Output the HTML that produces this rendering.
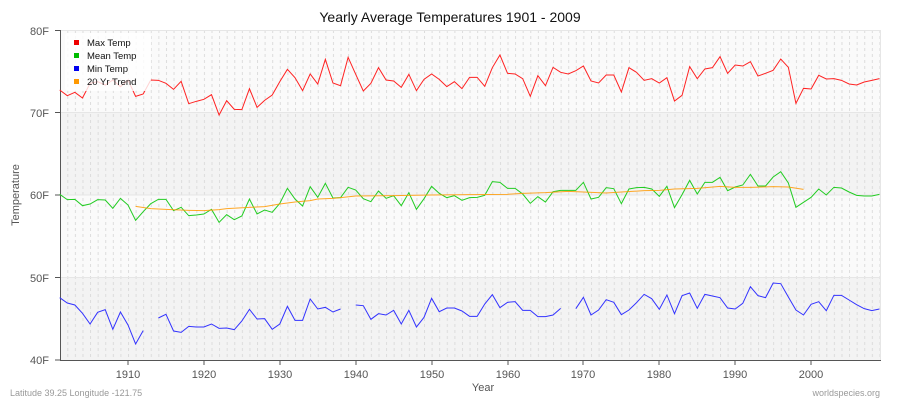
<!DOCTYPE html>
<html><head><meta charset="utf-8"><style>
body{margin:0;background:#fff;}
svg{display:block;font-family:"Liberation Sans",sans-serif;}
</style></head><body>
<svg width="900" height="400" xmlns="http://www.w3.org/2000/svg">
<defs>
<pattern id="vg" patternUnits="userSpaceOnUse" x="59.7" y="0" width="7.59" height="6">
<line x1="0.5" y1="0" x2="0.5" y2="3" stroke="#dcdcdc" stroke-width="1"/>
</pattern>
</defs>
<rect width="900" height="400" fill="#fff"/>
<text x="450" y="22" font-size="14" text-anchor="middle" fill="#111">Yearly Average Temperatures 1901 - 2009</text>
<rect x="60" y="30" width="821" height="82.5" fill="#fafafa"/>
<rect x="60" y="112.5" width="821" height="82.5" fill="#f3f3f3"/>
<rect x="60" y="195" width="821" height="82.5" fill="#fafafa"/>
<rect x="60" y="277.5" width="821" height="82.5" fill="#f3f3f3"/>
<rect x="60" y="30" width="821" height="330" fill="url(#vg)"/>
<g stroke="#e6e6e6" stroke-width="1">
<line x1="60" y1="30.5" x2="881" y2="30.5"/>
<line x1="60" y1="112.5" x2="881" y2="112.5"/>
<line x1="60" y1="195" x2="881" y2="195"/>
<line x1="60" y1="277.5" x2="881" y2="277.5"/>
<line x1="880.5" y1="30" x2="880.5" y2="360"/>
</g>
<g stroke="#555" stroke-width="1">
<line x1="60.5" y1="30" x2="60.5" y2="360"/>
<line x1="60" y1="360.5" x2="881" y2="360.5"/>
<line x1="55" y1="30.5" x2="60" y2="30.5"/><line x1="55" y1="112.5" x2="60" y2="112.5"/><line x1="55" y1="195" x2="60" y2="195"/><line x1="55" y1="277.5" x2="60" y2="277.5"/><line x1="55" y1="360" x2="60" y2="360"/>
<line x1="128" y1="360" x2="128" y2="365"/><line x1="204" y1="360" x2="204" y2="365"/><line x1="280" y1="360" x2="280" y2="365"/><line x1="356" y1="360" x2="356" y2="365"/><line x1="432" y1="360" x2="432" y2="365"/><line x1="508" y1="360" x2="508" y2="365"/><line x1="583" y1="360" x2="583" y2="365"/><line x1="659" y1="360" x2="659" y2="365"/><line x1="735" y1="360" x2="735" y2="365"/><line x1="811" y1="360" x2="811" y2="365"/>
</g>
<g font-size="11" fill="#555" text-anchor="end">
<text x="49" y="35">80F</text><text x="49" y="117">70F</text><text x="49" y="199">60F</text><text x="49" y="282">50F</text><text x="49" y="364">40F</text>
</g>
<g font-size="11" fill="#555" text-anchor="middle">
<text x="128" y="378">1910</text><text x="204" y="378">1920</text><text x="280" y="378">1930</text><text x="356" y="378">1940</text><text x="432" y="378">1950</text><text x="508" y="378">1960</text><text x="583" y="378">1970</text><text x="659" y="378">1980</text><text x="735" y="378">1990</text><text x="811" y="378">2000</text>
</g>
<text x="483" y="391" font-size="11" fill="#555" text-anchor="middle">Year</text>
<text transform="translate(19,195) rotate(-90)" font-size="11" fill="#555" text-anchor="middle">Temperature</text>
<text x="10" y="396" font-size="9" fill="#999">Latitude 39.25 Longitude -121.75</text>
<text x="880" y="396" font-size="9" fill="#999" text-anchor="end">worldspecies.org</text>
<g transform="translate(59.7,20) scale(7.59,0.33333)" fill="none">
<polyline vector-effect="non-scaling-stroke" stroke="#f22" stroke-width="1" points="0,210 1,227 2,217 3,234 4,190 5,185 6,195 7,180 8,200 9,180 10,229 11,222 12,180 13,181 14,190 15,208 16,184 17,251 18,244 19,238 20,224 21,285 22,242 23,268 24,269 25,206 26,262 27,241 28,225 29,185 30,148 31,173 32,212 33,162 34,192 35,118 36,189 37,197 38,112 39,163 40,213 41,190 42,143 43,180 44,183 45,202 46,163 47,212 48,178 49,162 50,178 51,200 52,185 53,206 54,172 55,172 56,199 57,143 58,105 59,160 60,162 61,176 62,229 63,167 64,197 65,142 66,157 67,162 68,152 69,138 70,183 71,189 72,165 73,165 74,216 75,143 76,157 77,181 78,176 79,189 80,173 81,243 82,226 83,140 84,176 85,147 86,143 87,110 88,160 89,135 90,138 91,125 92,168 93,160 94,151 95,117 96,142 97,250 98,205 99,207 100,166 101,177 102,176 103,181 104,192 105,195 106,186 107,181 108,176"/>
<polyline vector-effect="non-scaling-stroke" stroke="#2c2" stroke-width="1" points="0,523 1,539 2,538 3,557 4,552 5,539 6,540 7,565 8,535 9,555 10,601 11,575 12,551 13,538 14,538 15,572 16,562 17,587 18,585 19,582 20,568 21,607 22,584 23,599 24,588 25,537 26,582 27,570 28,577 29,550 30,505 31,537 32,558 33,500 34,532 35,490 36,534 37,533 38,502 39,510 40,536 41,545 42,513 43,535 44,527 45,557 46,518 47,568 48,536 49,499 50,520 51,533 52,527 53,541 54,533 55,532 56,526 57,485 58,487 59,505 60,505 61,522 62,550 63,530 64,546 65,515 66,511 67,511 68,511 69,487 70,537 71,532 72,503 73,506 74,551 75,507 76,503 77,502 78,507 79,529 80,499 81,563 82,524 83,481 84,522 85,487 86,487 87,472 88,512 89,501 90,495 91,463 92,498 93,498 94,471 95,455 96,489 97,562 98,547 99,532 100,507 101,525 102,502 103,504 104,516 105,526 106,528 107,528 108,523"/>
<g stroke="#33f" stroke-width="1">
<polyline vector-effect="non-scaling-stroke" points="0,833 1,849 2,855 3,880 4,912 5,877 6,869 7,928 8,876 9,915 10,972 11,932"/>
<polyline vector-effect="non-scaling-stroke" points="13,894 14,883 15,933 16,937 17,919 18,921 19,921 20,912 21,925 22,924 23,929 24,903 25,868 26,897 27,896 28,928 29,912 30,859 31,901 32,901 33,837 34,867 35,862 36,876 37,867"/>
<polyline vector-effect="non-scaling-stroke" points="39,855 40,857 41,898 42,881 43,885 44,871 45,912 46,871 47,921 48,892 49,835 50,875 51,864 52,864 53,873 54,889 55,889 56,852 57,824 58,863 59,847 60,845 61,871 62,871 63,890 64,890 65,885 66,865"/>
<polyline vector-effect="non-scaling-stroke" points="68,866 69,832 70,885 71,870 72,839 73,847 74,884 75,870 76,848 77,823 78,836 79,868 80,825 81,881 82,827 83,819 84,865 85,823 86,828 87,833 88,864 89,867 90,850 91,800 92,827 93,833 94,789 95,791 96,831 97,870 98,885 99,853 100,845 101,872 102,826 103,826 104,840 105,854 106,866 107,872 108,867"/>
</g>
<polyline vector-effect="non-scaling-stroke" stroke="#f90" stroke-width="1" stroke-opacity="0.85" points="10,559 12,566 14,568 17,571 19,572 21,569 22,566 25,562 27,560 29,552 31,546 33,542 34,537 36,535 37,533 39,528 44,527 49,525 54,524 59,523 61,520 64,518 67,514 69,516 72,519 74,516 77,512 79,511 81,507 84,505 87,499 89,502 91,502 94,500 96,501 98,508"/>
</g>
<rect x="65" y="33" width="86" height="58" rx="3" fill="#fff" fill-opacity="0.8"/>
<g font-size="9.5" fill="#111">
<rect x="74" y="40" width="5" height="5" fill="#e00"/><text x="87" y="46">Max Temp</text>
<rect x="74" y="53" width="5" height="5" fill="#0b0"/><text x="87" y="59">Mean Temp</text>
<rect x="74" y="66" width="5" height="5" fill="#00e"/><text x="87" y="72">Min Temp</text>
<rect x="74" y="79" width="5" height="5" fill="#f90"/><text x="87" y="85">20 Yr Trend</text>
</g>
</svg>
</body></html>
